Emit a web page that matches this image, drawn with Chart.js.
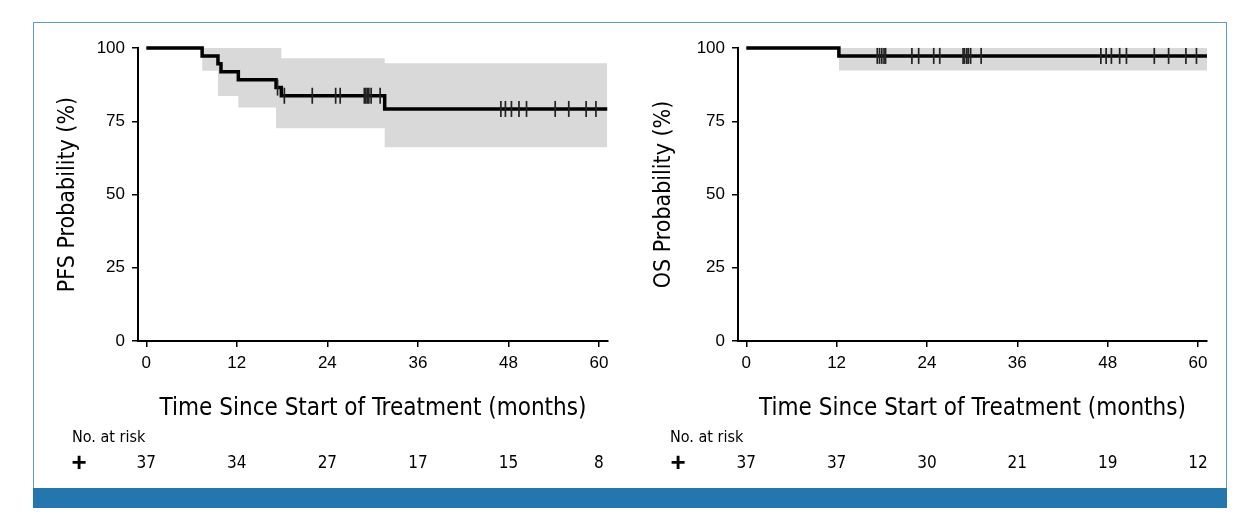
<!DOCTYPE html>
<html>
<head>
<meta charset="utf-8">
<script src="https://cdn.jsdelivr.net/npm/chart.js@4.4.0/dist/chart.umd.min.js"></script>
<style>
body { margin: 0; background: #fff; }
#frame { position: absolute; left: 33px; top: 22px; width: 1194px; height: 466px; border: 1px solid #5b9bd0; border-bottom: none; box-sizing: border-box; }
#bar { position: absolute; left: 33px; top: 488px; width: 1194px; height: 20px; background: #2476ae; }
canvas { position: absolute; }
</style>
</head>
<body>
<div id="frame"></div>
<div id="bar"></div>
<canvas id="pfs-chart" width="592" height="465" style="left:34px; top:23px"></canvas>
<canvas id="os-chart" width="596" height="465" style="left:630px; top:23px"></canvas>
<script>
// axis ticks
var xTicks = [0, 12, 24, 36, 48, 60];
var yTicks = [0, 25, 50, 75, 100];

// number at risk, read under each x tick
var riskTimes = [0, 12, 24, 36, 48, 60];
var pfsAtRisk = [37, 34, 27, 17, 15, 8];
var osAtRisk = [37, 37, 30, 21, 19, 12];

// PFS Kaplan-Meier steps (months, %)
var pfsTimes = [0, 7.4, 9.5, 9.9, 12.2, 17.2, 17.9, 31.6, 61.1];
var pfsSurv = [100, 97.3, 94.6, 91.9, 89.2, 86.5, 83.7, 79.2, 79.2];
var pfsUpperTimes = [7.4, 17.9, 31.6, 61.1];
var pfsUpper = [100, 96.5, 94.8, 94.8];
var pfsLowerTimes = [7.4, 9.5, 12.2, 17.2, 31.6, 61.1];
var pfsLower = [92.2, 83.6, 79.7, 72.6, 66.1, 66.1];
var pfsCensor = [17.4, 18.3, 22.0, 25.1, 25.7, 28.9, 29.1, 29.3, 29.5, 29.8, 31.0,
                 47.0, 47.6, 48.4, 49.4, 50.4, 54.2, 56.0, 58.3, 59.6];

// OS Kaplan-Meier steps (months, %)
var osTimes = [0, 12.3, 61.2];
var osSurv = [100, 97.3, 97.3];
var osUpperTimes = [12.3, 61.2];
var osUpper = [100, 100];
var osLowerTimes = [12.3, 61.2];
var osLower = [92.3, 92.3];
var osCensor = [17.4, 17.7, 18.0, 18.3, 18.5, 22.0, 22.9, 24.9, 25.7, 28.8, 29.0, 29.3, 29.5, 29.8, 31.2,
                47.1, 47.8, 48.5, 49.6, 50.5, 54.2, 56.1, 58.4, 59.8];

var narrow = '"Liberation Sans Narrow", "DejaVu Sans Condensed", sans-serif';
var plain = '"Liberation Sans", Arial, sans-serif';

function toPoints(times, values) {
    return times.map(function (t, i) { return { x: t, y: values[i] }; });
}

function survivalAt(times, values, t) {
    var s = values[0];
    for (var i = 0; i < times.length; i++) {
        if (times[i] <= t) s = values[i];
    }
    return s;
}

// draws the "No. at risk" table under the x axis
var atRiskPlugin = {
    id: 'atRisk',
    afterDraw: function (chart, args, opts) {
        var ctx = chart.ctx;
        var xScale = chart.scales.x;
        ctx.save();
        ctx.fillStyle = '#000';
        ctx.textBaseline = 'middle';
        ctx.textAlign = 'left';
        ctx.font = '16px ' + narrow;
        ctx.fillText('No. at risk', opts.labelX, opts.headerY);
        ctx.textAlign = 'center';
        ctx.font = 'bold 26px ' + plain;
        ctx.fillText('+', opts.plusX, opts.rowY);
        ctx.font = '17px ' + narrow;
        opts.counts.forEach(function (n, i) {
            ctx.fillText(String(n), xScale.getPixelForValue(riskTimes[i]), opts.rowY);
        });
        ctx.restore();
    }
};

function makeChart(id, yTitle, km, upper, lower, censor, counts, yWidth, padRight, labelX, plusX) {
    var ctx = document.getElementById(id).getContext('2d');
    return new Chart(ctx, {
        type: 'line',
        data: {
            datasets: [{
                label: 'Censored',
                data: censor,
                showLine: false,
                pointStyle: 'line',
                rotation: 90,
                pointRadius: 8,
                borderColor: '#222',
                pointBorderWidth: 1.7,
                clip: false,
                order: 0
            }, {
                label: 'KM',
                data: km,
                stepped: 'before',
                borderColor: '#000',
                borderWidth: 3.5,
                pointRadius: 0,
                fill: false,
                clip: false,
                order: 1
            }, {
                label: 'Upper',
                data: upper,
                stepped: 'before',
                borderWidth: 0,
                borderColor: 'rgba(0,0,0,0)',
                pointRadius: 0,
                backgroundColor: '#d9d9d9',
                fill: '+1',
                order: 2
            }, {
                label: 'Lower',
                data: lower,
                stepped: 'before',
                borderWidth: 0,
                borderColor: 'rgba(0,0,0,0)',
                pointRadius: 0,
                fill: false,
                order: 3
            }]
        },
        options: {
            responsive: false,
            animation: false,
            events: [],
            layout: { padding: { left: 0, top: 25, right: padRight, bottom: 57 } },
            plugins: {
                legend: { display: false },
                tooltip: { enabled: false },
                atRisk: { counts: counts, labelX: labelX, plusX: plusX, headerY: 415, rowY: 441 }
            },
            scales: {
                x: {
                    type: 'linear',
                    min: -1.1,
                    max: 61.2,
                    afterBuildTicks: function (scale) {
                        scale.ticks = xTicks.map(function (v) { return { value: v }; });
                    },
                    afterFit: function (scale) { scale.height = 90; },
                    grid: { drawOnChartArea: false, drawTicks: true, tickLength: 6, color: '#000', lineWidth: 1.5 },
                    border: { display: true, color: '#000', width: 2 },
                    ticks: { color: '#000', font: { family: plain, size: 17 }, padding: 6, maxRotation: 0 },
                    title: { display: true, text: 'Time Since Start of Treatment (months)', color: '#000',
                             font: { family: narrow, size: 24 }, padding: { top: 0, bottom: 8 } }
                },
                y: {
                    min: 0,
                    max: 100,
                    afterBuildTicks: function (scale) {
                        scale.ticks = yTicks.map(function (v) { return { value: v }; });
                    },
                    afterFit: function (scale) { scale.width = yWidth; },
                    grid: { drawOnChartArea: false, drawTicks: true, tickLength: 6, color: '#000', lineWidth: 1.5 },
                    border: { display: true, color: '#000', width: 2 },
                    ticks: { color: '#000', font: { family: plain, size: 17 }, padding: 7 },
                    title: { display: true, text: yTitle, color: '#000',
                             font: { family: narrow, size: 23 }, padding: { top: 20, bottom: 0 } }
                }
            }
        },
        plugins: [atRiskPlugin]
    });
}

var pfsCensorPts = pfsCensor.map(function (t) { return { x: t, y: survivalAt(pfsTimes, pfsSurv, t) }; });
var osCensorPts = osCensor.map(function (t) { return { x: t, y: survivalAt(osTimes, osSurv, t) }; });

makeChart('pfs-chart', 'PFS Probability (%)',
    toPoints(pfsTimes, pfsSurv), toPoints(pfsUpperTimes, pfsUpper), toPoints(pfsLowerTimes, pfsLower),
    pfsCensorPts, pfsAtRisk, 104, 18, 38, 45);

makeChart('os-chart', 'OS Probability (%)',
    toPoints(osTimes, osSurv), toPoints(osUpperTimes, osUpper), toPoints(osLowerTimes, osLower),
    osCensorPts, osAtRisk, 108, 19, 40, 48);
</script>
</body>
</html>
